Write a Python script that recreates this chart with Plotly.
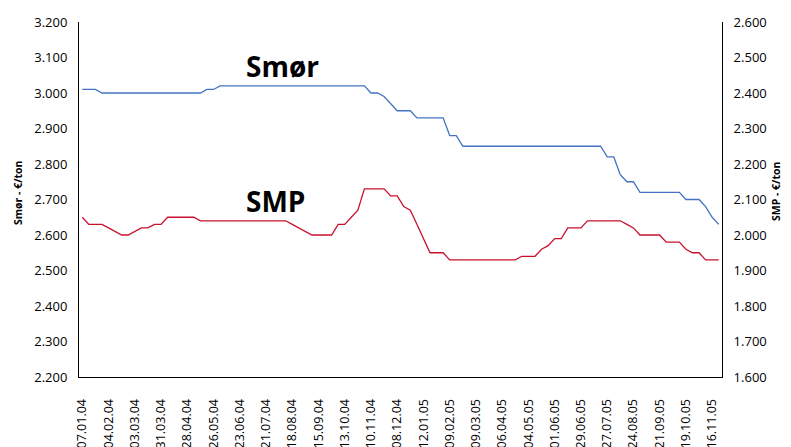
import plotly.graph_objects as go

dates = [
    "07.01.04", "14.01.04", "21.01.04", "28.01.04", "04.02.04", "11.02.04", "18.02.04", "25.02.04",
    "03.03.04", "10.03.04", "17.03.04", "24.03.04", "31.03.04", "07.04.04", "14.04.04", "21.04.04",
    "28.04.04", "05.05.04", "12.05.04", "19.05.04", "26.05.04", "02.06.04", "09.06.04", "16.06.04",
    "23.06.04", "30.06.04", "07.07.04", "14.07.04", "21.07.04", "28.07.04", "04.08.04", "11.08.04",
    "18.08.04", "25.08.04", "01.09.04", "08.09.04", "15.09.04", "22.09.04", "29.09.04", "06.10.04",
    "13.10.04", "20.10.04", "27.10.04", "03.11.04", "10.11.04", "17.11.04", "24.11.04", "01.12.04",
    "08.12.04", "15.12.04", "22.12.04", "05.01.05", "12.01.05", "19.01.05", "26.01.05", "02.02.05",
    "09.02.05", "16.02.05", "23.02.05", "02.03.05", "09.03.05", "16.03.05", "23.03.05", "30.03.05",
    "06.04.05", "13.04.05", "20.04.05", "27.04.05", "04.05.05", "11.05.05", "18.05.05", "25.05.05",
    "01.06.05", "08.06.05", "15.06.05", "22.06.05", "29.06.05", "06.07.05", "13.07.05", "20.07.05",
    "27.07.05", "03.08.05", "10.08.05", "17.08.05", "24.08.05", "31.08.05", "07.09.05", "14.09.05",
    "21.09.05", "28.09.05", "05.10.05", "12.10.05", "19.10.05", "26.10.05", "02.11.05", "09.11.05",
    "16.11.05", "23.11.05",
]

smor = [
    3010, 3010, 3010,
    3000, 3000, 3000, 3000, 3000, 3000, 3000, 3000, 3000, 3000, 3000, 3000, 3000, 3000, 3000, 3000,
    3010, 3010,
    3020, 3020, 3020, 3020, 3020, 3020, 3020, 3020, 3020, 3020, 3020, 3020, 3020, 3020, 3020, 3020,
    3020, 3020, 3020, 3020, 3020, 3020, 3020,
    3000, 3000, 2990, 2970,
    2950, 2950, 2950,
    2930, 2930, 2930, 2930, 2930,
    2880, 2880,
    2850, 2850, 2850, 2850, 2850, 2850, 2850, 2850, 2850, 2850, 2850, 2850, 2850, 2850, 2850, 2850,
    2850, 2850, 2850, 2850, 2850, 2850,
    2820, 2820, 2770, 2750, 2750,
    2720, 2720, 2720, 2720, 2720, 2720, 2720,
    2700, 2700, 2700, 2680, 2650, 2630,
]

smp = [
    2050, 2030, 2030, 2030, 2020, 2010, 2000, 2000, 2010, 2020, 2020, 2030, 2030,
    2050, 2050, 2050, 2050, 2050,
    2040, 2040, 2040, 2040, 2040, 2040, 2040, 2040, 2040, 2040, 2040, 2040, 2040, 2040,
    2030, 2020, 2010,
    2000, 2000, 2000, 2000,
    2030, 2030, 2050, 2070,
    2130, 2130, 2130, 2130,
    2110, 2110, 2080, 2070, 2030, 1990,
    1950, 1950, 1950,
    1930, 1930, 1930, 1930, 1930, 1930, 1930, 1930, 1930, 1930, 1930,
    1940, 1940, 1940, 1960, 1970, 1990, 1990,
    2020, 2020, 2020,
    2040, 2040, 2040, 2040, 2040, 2040,
    2030, 2020,
    2000, 2000, 2000, 2000,
    1980, 1980, 1980,
    1960, 1950, 1950,
    1930, 1930, 1930,
]

tick_labels = dates[::4]

FONT = "Open Sans"

fig = go.Figure()
fig.add_trace(go.Scatter(x=dates, y=smor, mode="lines", name="Smør",
                         line=dict(color="#4472C4", width=1.3), yaxis="y"))
fig.add_trace(go.Scatter(x=dates, y=smp, mode="lines", name="SMP",
                         line=dict(color="#C8102E", width=1.3), yaxis="y2"))

fig.update_layout(
    width=791, height=447,
    margin=dict(l=79, r=69, t=22, b=70),
    paper_bgcolor="white", plot_bgcolor="white",
    showlegend=False,
    separators=",.",
    font=dict(family=FONT, size=13, color="black"),
    xaxis=dict(
        type="category", categoryorder="array", categoryarray=dates,
        range=[-0.5, len(dates) - 0.5],
        tickmode="array", tickvals=tick_labels, ticktext=tick_labels,
        tickangle=-90, showgrid=False, zeroline=False,
        showline=True, linecolor="black", linewidth=1,
        ticks="", ticklabelstandoff=16, automargin=False,
        tickfont=dict(family=FONT, size=12.5, color="black"),
    ),
    yaxis=dict(
        range=[2200, 3200], dtick=100, tickformat=",d",
        showgrid=False, zeroline=False,
        showline=True, linecolor="black", linewidth=1,
        ticks="", ticklabelstandoff=8, automargin=False,
        tickfont=dict(family=FONT, size=13, color="black"),
    ),
    yaxis2=dict(
        range=[1600, 2600], dtick=100, tickformat=",d",
        overlaying="y", side="right",
        showgrid=False, zeroline=False,
        showline=True, linecolor="black", linewidth=1,
        ticks="", ticklabelstandoff=8, automargin=False,
        tickfont=dict(family=FONT, size=13, color="black"),
    ),
    annotations=[
        dict(text="<b>Smør</b>", xref="paper", yref="paper", x=0.3165, y=0.876,
             showarrow=False, font=dict(family=FONT, size=28, color="black"),
             xanchor="center", yanchor="middle"),
        dict(text="<b>SMP</b>", xref="paper", yref="paper", x=0.306, y=0.496,
             showarrow=False, font=dict(family=FONT, size=28, color="black"),
             xanchor="center", yanchor="middle"),
        dict(text="<b>Smør - €/ton</b>", xref="paper", yref="paper", x=-0.0949, y=0.521,
             textangle=-90, showarrow=False, font=dict(family=FONT, size=10.5, color="black"),
             xanchor="center", yanchor="middle"),
        dict(text="<b>SMP - €/ton</b>", xref="paper", yref="paper", x=1.084, y=0.524,
             textangle=-90, showarrow=False, font=dict(family=FONT, size=10.5, color="black"),
             xanchor="center", yanchor="middle"),
    ],
)

fig.write_html(
    "out.html",
    config={"displayModeBar": False},
    post_script="document.body.style.margin='0';document.body.style.padding='0';",
)
